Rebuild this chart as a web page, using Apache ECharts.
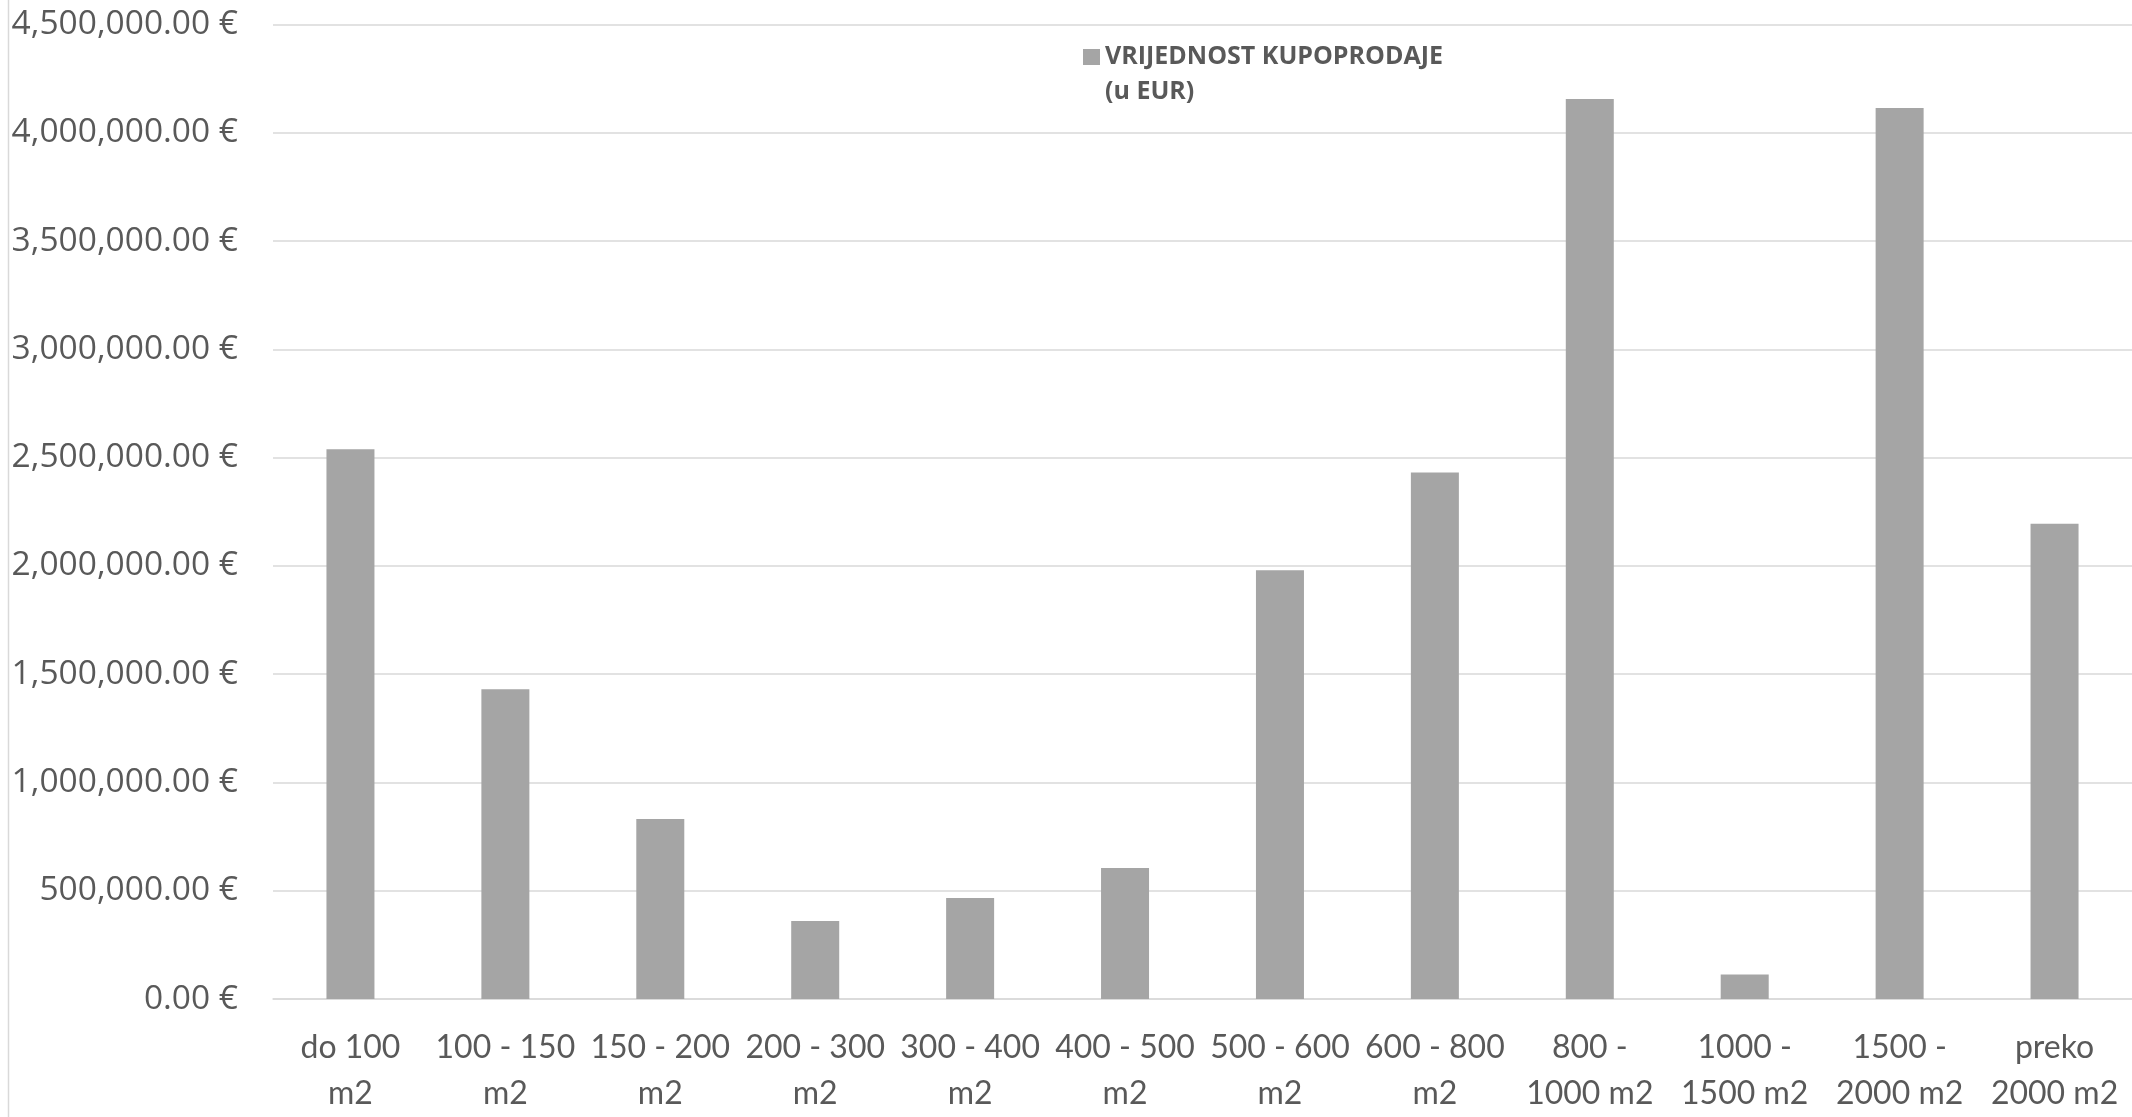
<!DOCTYPE html>
<html>
<head>
<meta charset="utf-8">
<script src="https://cdn.jsdelivr.net/npm/echarts@6/dist/echarts.min.js"></script>
<style>
html,body{margin:0;padding:0;background:#fff;}
#chart{width:2132px;height:1117px;}
</style>
</head>
<body>
<div id="chart"></div>
<script>
const categories = ['do 100\nm2', '100 - 150\nm2', '150 - 200\nm2', '200 - 300\nm2', '300 - 400\nm2', '400 - 500\nm2', '500 - 600\nm2', '600 - 800\nm2', '800 -\n1000 m2', '1000 -\n1500 m2', '1500 -\n2000 m2', 'preko\n2000 m2'];
const seriesName = 'VRIJEDNOST KUPOPRODAJE\n(u EUR)';
const values = [2539000, 1431000, 831000, 360000, 466000, 605000, 1980000, 2432000, 4156000, 113000, 4115000, 2195000];
const yMin = 0, yMax = 4500000, yStep = 500000;

function fmtEur(v) {
  const s = v.toFixed(2);
  const parts = s.split('.');
  parts[0] = parts[0].replace(/\B(?=(\d{3})+(?!\d))/g, ',');
  return parts.join('.') + ' €';
}

const chart = echarts.init(document.getElementById('chart'), null, {renderer: 'canvas'});
chart.setOption({
  animation: false,
  backgroundColor: '#ffffff',
  grid: {left: 273, right: 0, top: 24.6, bottom: 113.7, containLabel: false},
  legend: {
    show: true,
    left: 1083,
    top: 4.5,
    padding: 0,
    icon: 'rect',
    itemWidth: 17,
    itemHeight: 16,
    selectedMode: false,
    formatter: function (name) { return '\n' + name; },
    textStyle: {
      fontFamily: 'Open Sans',
      fontWeight: 'bold',
      fontSize: 25,
      color: '#595959',
      lineHeight: 35
    },
    data: [seriesName]
  },
  graphic: [{
    type: 'line',
    shape: {x1: 8.5, y1: 0, x2: 8.5, y2: 1117},
    style: {stroke: '#D9D9D9', lineWidth: 1.5}
  }],
  xAxis: {
    type: 'category',
    data: categories,
    axisLine: {show: true, lineStyle: {color: '#D9D9D9', width: 1.5}},
    axisTick: {show: false},
    axisLabel: {
      interval: 0,
      margin: 26,
      fontFamily: 'Lato',
      fontSize: 32,
      lineHeight: 46,
      color: '#595959',
      align: 'center'
    }
  },
  yAxis: {
    type: 'value',
    min: yMin,
    max: yMax,
    interval: yStep,
    axisLine: {show: false},
    axisTick: {show: false},
    splitLine: {show: true, lineStyle: {color: '#D9D9D9', width: 1.5}},
    axisLabel: {
      margin: 35,
      fontFamily: 'Open Sans',
      fontSize: 33.5,
      color: '#595959',
      formatter: fmtEur
    }
  },
  series: [{
    name: seriesName,
    type: 'bar',
    data: values,
    barWidth: 48,
    itemStyle: {color: '#A5A5A5'}
  }]
});
</script>
</body>
</html>
